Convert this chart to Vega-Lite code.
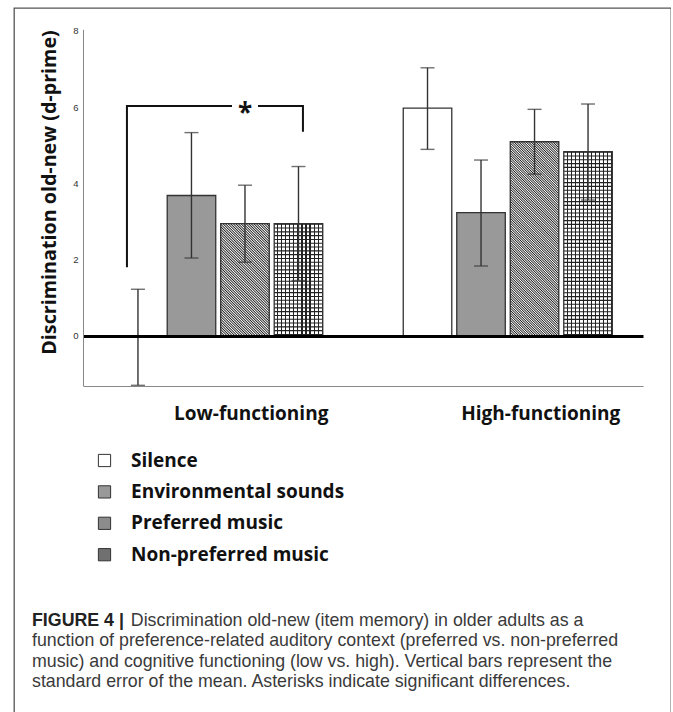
{
  "$schema": "https://vega.github.io/schema/vega-lite/v6.json",
  "autosize": {"type": "none"},
  "padding": {"left": 14, "top": 8, "right": 0, "bottom": 0},
  "width": 657,
  "height": 710,
  "background": "white",
  "config": {
    "view": {"stroke": "#555", "strokeWidth": 1.3},
    "font": "Liberation Sans"
  },
  "title": {
    "text": "FIGURE 4 |",
    "subtitle": [
      "\u200b\u00a0\u00a0\u00a0\u00a0\u00a0\u00a0\u00a0\u00a0\u00a0\u00a0\u00a0\u00a0\u00a0\u00a0\u00a0\u00a0\u00a0\u00a0\u00a0\u00a0Discrimination old-new (item memory) in older adults as a",
      "function of preference-related auditory context (preferred vs. non-preferred",
      "music) and cognitive functioning (low vs. high). Vertical bars represent the",
      "standard error of the mean. Asterisks indicate significant differences."
    ],
    "orient": "bottom",
    "anchor": "start",
    "frame": "group",
    "offset": -106,
    "dx": 18,
    "font": "Liberation Sans",
    "fontSize": 17.8,
    "fontWeight": "bold",
    "color": "#222",
    "subtitleFont": "Liberation Sans",
    "subtitleFontSize": 17.8,
    "subtitleFontWeight": "normal",
    "subtitleColor": "#3a3a3a",
    "subtitleLineHeight": 20.3,
    "subtitlePadding": -17.8
  },
  "datasets": {
    "bars": [
      {"grp": "Low-functioning", "cond": "Silence", "val": -0.04, "lo": -1.3, "hi": 1.22},
      {"grp": "Low-functioning", "cond": "Environmental sounds", "val": 3.68, "lo": 2.04, "hi": 5.33},
      {"grp": "Low-functioning", "cond": "Preferred music", "val": 2.94, "lo": 1.93, "hi": 3.95},
      {"grp": "Low-functioning", "cond": "Non-preferred music", "val": 2.94, "lo": 1.45, "hi": 4.44},
      {"grp": "High-functioning", "cond": "Silence", "val": 5.97, "lo": 4.89, "hi": 7.03},
      {"grp": "High-functioning", "cond": "Environmental sounds", "val": 3.23, "lo": 1.83, "hi": 4.61},
      {"grp": "High-functioning", "cond": "Preferred music", "val": 5.09, "lo": 4.24, "hi": 5.94},
      {"grp": "High-functioning", "cond": "Non-preferred music", "val": 4.83, "lo": 3.56, "hi": 6.08}
    ],
    "bracket": [
      {"grp": "Low-functioning", "cond": "Silence", "y": 1.8, "part": "L", "o": 1},
      {"grp": "Low-functioning", "cond": "Silence", "y": 6.03, "part": "L", "o": 2},
      {"grp": "Low-functioning", "cond": "Preferred music", "y": 6.03, "part": "L", "o": 3},
      {"grp": "Low-functioning", "cond": "Preferred music", "y": 6.03, "part": "R", "o": 1},
      {"grp": "Low-functioning", "cond": "Non-preferred music", "y": 6.03, "part": "R", "o": 2},
      {"grp": "Low-functioning", "cond": "Non-preferred music", "y": 5.35, "part": "R", "o": 3}
    ],
    "sig": [
      {"grp": "Low-functioning", "cond": "Preferred music", "y": 6.03, "label": "*"}
    ]
  },
  "resolve": {"scale": {"xOffset": "independent"}},
  "encoding": {
    "x": {
      "field": "grp", "type": "nominal",
      "sort": ["Low-functioning", "High-functioning"],
      "scale": {"domain": ["Low-functioning", "High-functioning"], "range": [69, 629], "paddingInner": 0.278, "paddingOuter": 0.106},
      "axis": {
        "title": null, "orient": "bottom", "offset": -332, "ticks": false,
        "domainColor": "#888", "domainWidth": 1,
        "labelFont": "Open Sans", "labelFontWeight": "bold", "labelFontSize": 19, "labelColor": "#111",
        "labelPadding": 18, "labelOffset": 33, "labelAngle": 0, "labelLimit": 400
      }
    },
    "xOffset": {
      "field": "cond", "type": "nominal",
      "scale": {"type": "band", "domain": ["Silence", "Environmental sounds", "Preferred music", "Non-preferred music"], "paddingInner": 0.093, "paddingOuter": 0}
    }
  },
  "layer": [
    {
      "data": {"name": "bars"},
      "mark": {"type": "bar"},
      "encoding": {
        "y": {
          "field": "val", "type": "quantitative", "stack": null,
          "scale": {"domain": [-1.31, 8.04], "range": [377.7, 21.3], "nice": false, "zero": false},
          "axis": {
            "title": "Discrimination old-new (d-prime)",
            "titleFont": "Open Sans", "titleFontWeight": "bold", "titleFontSize": 19.7, "titleColor": "#111",
            "titleX": -34, "titleY": 184, "titleBaseline": "middle", "titleAngle": -90,
            "values": [0, 2, 4, 6, 8], "format": "d", "offset": -69, "ticks": false,
            "labelFont": "Liberation Sans", "labelFontSize": 9.5, "labelColor": "#333", "labelPadding": 5,
            "domainColor": "#888", "domainWidth": 1,
            "grid": true, "gridColor": "#000", "gridWidth": 3,
            "gridOpacity": {"condition": {"test": "datum.value === 0", "value": 1}, "value": 0},
            "zindex": 1
          }
        },
        "fill": {
          "field": "cond", "type": "nominal",
          "scale": {
            "domain": ["Silence", "Environmental sounds", "Preferred music", "Non-preferred music"],
            "range": ["#ffffff", "#999999", "#8c8c8c", "#707070"]
          },
          "legend": {
            "orient": "none", "legendX": 81, "legendY": 443, "direction": "vertical",
            "title": null, "padding": 0, "symbolType": "square", "symbolSize": 150,
            "symbolStrokeColor": "#333", "symbolStrokeWidth": 1, "symbolOffset": 0,
            "labelFont": "Open Sans", "labelFontWeight": "bold", "labelFontSize": 19, "labelColor": "#111",
            "labelOffset": 17, "labelLimit": 400, "rowPadding": 11.4
          }
        }
      }
    },
    {
      "data": {"name": "bars"},
      "transform": [{"filter": "datum.cond === 'Preferred music' && datum.grp === 'Low-functioning'"}],
      "mark": {"type": "bar", "fill": {"gradient": "linear", "x1": 0, "y1": 1, "x2": 0.5207, "y2": -0.2068, "stops": [
        {"offset": 0, "color": "#fff"}, {"offset": 0.008, "color": "#222"}, {"offset": 0.016, "color": "#fff"}, {"offset": 0.024, "color": "#222"}, {"offset": 0.032, "color": "#fff"}, {"offset": 0.04, "color": "#222"}, {"offset": 0.048, "color": "#fff"}, {"offset": 0.056, "color": "#222"}, {"offset": 0.064, "color": "#fff"}, {"offset": 0.072, "color": "#222"},
        {"offset": 0.08, "color": "#fff"}, {"offset": 0.088, "color": "#222"}, {"offset": 0.096, "color": "#fff"}, {"offset": 0.104, "color": "#222"}, {"offset": 0.112, "color": "#fff"}, {"offset": 0.12, "color": "#222"}, {"offset": 0.128, "color": "#fff"}, {"offset": 0.136, "color": "#222"}, {"offset": 0.144, "color": "#fff"}, {"offset": 0.152, "color": "#222"},
        {"offset": 0.16, "color": "#fff"}, {"offset": 0.168, "color": "#222"}, {"offset": 0.176, "color": "#fff"}, {"offset": 0.184, "color": "#222"}, {"offset": 0.192, "color": "#fff"}, {"offset": 0.2, "color": "#222"}, {"offset": 0.208, "color": "#fff"}, {"offset": 0.216, "color": "#222"}, {"offset": 0.224, "color": "#fff"}, {"offset": 0.232, "color": "#222"},
        {"offset": 0.24, "color": "#fff"}, {"offset": 0.248, "color": "#222"}, {"offset": 0.256, "color": "#fff"}, {"offset": 0.264, "color": "#222"}, {"offset": 0.272, "color": "#fff"}, {"offset": 0.28, "color": "#222"}, {"offset": 0.288, "color": "#fff"}, {"offset": 0.296, "color": "#222"}, {"offset": 0.304, "color": "#fff"}, {"offset": 0.312, "color": "#222"},
        {"offset": 0.32, "color": "#fff"}, {"offset": 0.328, "color": "#222"}, {"offset": 0.336, "color": "#fff"}, {"offset": 0.344, "color": "#222"}, {"offset": 0.352, "color": "#fff"}, {"offset": 0.36, "color": "#222"}, {"offset": 0.368, "color": "#fff"}, {"offset": 0.376, "color": "#222"}, {"offset": 0.384, "color": "#fff"}, {"offset": 0.392, "color": "#222"},
        {"offset": 0.4, "color": "#fff"}, {"offset": 0.408, "color": "#222"}, {"offset": 0.416, "color": "#fff"}, {"offset": 0.424, "color": "#222"}, {"offset": 0.432, "color": "#fff"}, {"offset": 0.44, "color": "#222"}, {"offset": 0.448, "color": "#fff"}, {"offset": 0.456, "color": "#222"}, {"offset": 0.464, "color": "#fff"}, {"offset": 0.472, "color": "#222"},
        {"offset": 0.48, "color": "#fff"}, {"offset": 0.488, "color": "#222"}, {"offset": 0.496, "color": "#fff"}, {"offset": 0.504, "color": "#222"}, {"offset": 0.512, "color": "#fff"}, {"offset": 0.52, "color": "#222"}, {"offset": 0.528, "color": "#fff"}, {"offset": 0.536, "color": "#222"}, {"offset": 0.544, "color": "#fff"}, {"offset": 0.552, "color": "#222"},
        {"offset": 0.56, "color": "#fff"}, {"offset": 0.568, "color": "#222"}, {"offset": 0.576, "color": "#fff"}, {"offset": 0.584, "color": "#222"}, {"offset": 0.592, "color": "#fff"}, {"offset": 0.6, "color": "#222"}, {"offset": 0.608, "color": "#fff"}, {"offset": 0.616, "color": "#222"}, {"offset": 0.624, "color": "#fff"}, {"offset": 0.632, "color": "#222"},
        {"offset": 0.64, "color": "#fff"}, {"offset": 0.648, "color": "#222"}, {"offset": 0.656, "color": "#fff"}, {"offset": 0.664, "color": "#222"}, {"offset": 0.672, "color": "#fff"}, {"offset": 0.68, "color": "#222"}, {"offset": 0.688, "color": "#fff"}, {"offset": 0.696, "color": "#222"}, {"offset": 0.704, "color": "#fff"}, {"offset": 0.712, "color": "#222"},
        {"offset": 0.72, "color": "#fff"}, {"offset": 0.728, "color": "#222"}, {"offset": 0.736, "color": "#fff"}, {"offset": 0.744, "color": "#222"}, {"offset": 0.752, "color": "#fff"}, {"offset": 0.76, "color": "#222"}, {"offset": 0.768, "color": "#fff"}, {"offset": 0.776, "color": "#222"}, {"offset": 0.784, "color": "#fff"}, {"offset": 0.792, "color": "#222"},
        {"offset": 0.8, "color": "#fff"}, {"offset": 0.808, "color": "#222"}, {"offset": 0.816, "color": "#fff"}, {"offset": 0.824, "color": "#222"}, {"offset": 0.832, "color": "#fff"}, {"offset": 0.84, "color": "#222"}, {"offset": 0.848, "color": "#fff"}, {"offset": 0.856, "color": "#222"}, {"offset": 0.864, "color": "#fff"}, {"offset": 0.872, "color": "#222"},
        {"offset": 0.88, "color": "#fff"}, {"offset": 0.888, "color": "#222"}, {"offset": 0.896, "color": "#fff"}, {"offset": 0.904, "color": "#222"}, {"offset": 0.912, "color": "#fff"}, {"offset": 0.92, "color": "#222"}, {"offset": 0.928, "color": "#fff"}, {"offset": 0.936, "color": "#222"}, {"offset": 0.944, "color": "#fff"}, {"offset": 0.952, "color": "#222"},
        {"offset": 0.96, "color": "#fff"}, {"offset": 0.968, "color": "#222"}, {"offset": 0.976, "color": "#fff"}, {"offset": 0.984, "color": "#222"}, {"offset": 0.992, "color": "#fff"}, {"offset": 1, "color": "#222"}
      ]}},
      "encoding": {"y": {"field": "val", "type": "quantitative", "stack": null}}
    },
    {
      "data": {"name": "bars"},
      "transform": [{"filter": "datum.cond === 'Preferred music' && datum.grp === 'High-functioning'"}],
      "mark": {"type": "bar", "fill": {"gradient": "linear", "x1": 0, "y1": 1, "x2": 0.293, "y2": -0.1762, "stops": [
        {"offset": 0, "color": "#fff"}, {"offset": 0.005, "color": "#222"}, {"offset": 0.01, "color": "#fff"}, {"offset": 0.015, "color": "#222"}, {"offset": 0.02, "color": "#fff"}, {"offset": 0.025, "color": "#222"}, {"offset": 0.03, "color": "#fff"}, {"offset": 0.035, "color": "#222"}, {"offset": 0.04, "color": "#fff"}, {"offset": 0.045, "color": "#222"},
        {"offset": 0.05, "color": "#fff"}, {"offset": 0.055, "color": "#222"}, {"offset": 0.06, "color": "#fff"}, {"offset": 0.065, "color": "#222"}, {"offset": 0.07, "color": "#fff"}, {"offset": 0.075, "color": "#222"}, {"offset": 0.08, "color": "#fff"}, {"offset": 0.085, "color": "#222"}, {"offset": 0.09, "color": "#fff"}, {"offset": 0.095, "color": "#222"},
        {"offset": 0.1, "color": "#fff"}, {"offset": 0.105, "color": "#222"}, {"offset": 0.11, "color": "#fff"}, {"offset": 0.115, "color": "#222"}, {"offset": 0.12, "color": "#fff"}, {"offset": 0.125, "color": "#222"}, {"offset": 0.13, "color": "#fff"}, {"offset": 0.135, "color": "#222"}, {"offset": 0.14, "color": "#fff"}, {"offset": 0.145, "color": "#222"},
        {"offset": 0.15, "color": "#fff"}, {"offset": 0.155, "color": "#222"}, {"offset": 0.16, "color": "#fff"}, {"offset": 0.165, "color": "#222"}, {"offset": 0.17, "color": "#fff"}, {"offset": 0.175, "color": "#222"}, {"offset": 0.18, "color": "#fff"}, {"offset": 0.185, "color": "#222"}, {"offset": 0.19, "color": "#fff"}, {"offset": 0.195, "color": "#222"},
        {"offset": 0.2, "color": "#fff"}, {"offset": 0.205, "color": "#222"}, {"offset": 0.21, "color": "#fff"}, {"offset": 0.215, "color": "#222"}, {"offset": 0.22, "color": "#fff"}, {"offset": 0.225, "color": "#222"}, {"offset": 0.23, "color": "#fff"}, {"offset": 0.235, "color": "#222"}, {"offset": 0.24, "color": "#fff"}, {"offset": 0.245, "color": "#222"},
        {"offset": 0.25, "color": "#fff"}, {"offset": 0.255, "color": "#222"}, {"offset": 0.26, "color": "#fff"}, {"offset": 0.265, "color": "#222"}, {"offset": 0.27, "color": "#fff"}, {"offset": 0.275, "color": "#222"}, {"offset": 0.28, "color": "#fff"}, {"offset": 0.285, "color": "#222"}, {"offset": 0.29, "color": "#fff"}, {"offset": 0.295, "color": "#222"},
        {"offset": 0.3, "color": "#fff"}, {"offset": 0.305, "color": "#222"}, {"offset": 0.31, "color": "#fff"}, {"offset": 0.315, "color": "#222"}, {"offset": 0.32, "color": "#fff"}, {"offset": 0.325, "color": "#222"}, {"offset": 0.33, "color": "#fff"}, {"offset": 0.335, "color": "#222"}, {"offset": 0.34, "color": "#fff"}, {"offset": 0.345, "color": "#222"},
        {"offset": 0.35, "color": "#fff"}, {"offset": 0.355, "color": "#222"}, {"offset": 0.36, "color": "#fff"}, {"offset": 0.365, "color": "#222"}, {"offset": 0.37, "color": "#fff"}, {"offset": 0.375, "color": "#222"}, {"offset": 0.38, "color": "#fff"}, {"offset": 0.385, "color": "#222"}, {"offset": 0.39, "color": "#fff"}, {"offset": 0.395, "color": "#222"},
        {"offset": 0.4, "color": "#fff"}, {"offset": 0.405, "color": "#222"}, {"offset": 0.41, "color": "#fff"}, {"offset": 0.415, "color": "#222"}, {"offset": 0.42, "color": "#fff"}, {"offset": 0.425, "color": "#222"}, {"offset": 0.43, "color": "#fff"}, {"offset": 0.435, "color": "#222"}, {"offset": 0.44, "color": "#fff"}, {"offset": 0.445, "color": "#222"},
        {"offset": 0.45, "color": "#fff"}, {"offset": 0.455, "color": "#222"}, {"offset": 0.46, "color": "#fff"}, {"offset": 0.465, "color": "#222"}, {"offset": 0.47, "color": "#fff"}, {"offset": 0.475, "color": "#222"}, {"offset": 0.48, "color": "#fff"}, {"offset": 0.485, "color": "#222"}, {"offset": 0.49, "color": "#fff"}, {"offset": 0.495, "color": "#222"},
        {"offset": 0.5, "color": "#fff"}, {"offset": 0.505, "color": "#222"}, {"offset": 0.51, "color": "#fff"}, {"offset": 0.515, "color": "#222"}, {"offset": 0.52, "color": "#fff"}, {"offset": 0.525, "color": "#222"}, {"offset": 0.53, "color": "#fff"}, {"offset": 0.535, "color": "#222"}, {"offset": 0.54, "color": "#fff"}, {"offset": 0.545, "color": "#222"},
        {"offset": 0.55, "color": "#fff"}, {"offset": 0.555, "color": "#222"}, {"offset": 0.56, "color": "#fff"}, {"offset": 0.565, "color": "#222"}, {"offset": 0.57, "color": "#fff"}, {"offset": 0.575, "color": "#222"}, {"offset": 0.58, "color": "#fff"}, {"offset": 0.585, "color": "#222"}, {"offset": 0.59, "color": "#fff"}, {"offset": 0.595, "color": "#222"},
        {"offset": 0.6, "color": "#fff"}, {"offset": 0.605, "color": "#222"}, {"offset": 0.61, "color": "#fff"}, {"offset": 0.615, "color": "#222"}, {"offset": 0.62, "color": "#fff"}, {"offset": 0.625, "color": "#222"}, {"offset": 0.63, "color": "#fff"}, {"offset": 0.635, "color": "#222"}, {"offset": 0.64, "color": "#fff"}, {"offset": 0.645, "color": "#222"},
        {"offset": 0.65, "color": "#fff"}, {"offset": 0.655, "color": "#222"}, {"offset": 0.66, "color": "#fff"}, {"offset": 0.665, "color": "#222"}, {"offset": 0.67, "color": "#fff"}, {"offset": 0.675, "color": "#222"}, {"offset": 0.68, "color": "#fff"}, {"offset": 0.685, "color": "#222"}, {"offset": 0.69, "color": "#fff"}, {"offset": 0.695, "color": "#222"},
        {"offset": 0.7, "color": "#fff"}, {"offset": 0.705, "color": "#222"}, {"offset": 0.71, "color": "#fff"}, {"offset": 0.715, "color": "#222"}, {"offset": 0.72, "color": "#fff"}, {"offset": 0.725, "color": "#222"}, {"offset": 0.73, "color": "#fff"}, {"offset": 0.735, "color": "#222"}, {"offset": 0.74, "color": "#fff"}, {"offset": 0.745, "color": "#222"},
        {"offset": 0.75, "color": "#fff"}, {"offset": 0.755, "color": "#222"}, {"offset": 0.76, "color": "#fff"}, {"offset": 0.765, "color": "#222"}, {"offset": 0.77, "color": "#fff"}, {"offset": 0.775, "color": "#222"}, {"offset": 0.78, "color": "#fff"}, {"offset": 0.785, "color": "#222"}, {"offset": 0.79, "color": "#fff"}, {"offset": 0.795, "color": "#222"},
        {"offset": 0.8, "color": "#fff"}, {"offset": 0.805, "color": "#222"}, {"offset": 0.81, "color": "#fff"}, {"offset": 0.815, "color": "#222"}, {"offset": 0.82, "color": "#fff"}, {"offset": 0.825, "color": "#222"}, {"offset": 0.83, "color": "#fff"}, {"offset": 0.835, "color": "#222"}, {"offset": 0.84, "color": "#fff"}, {"offset": 0.845, "color": "#222"},
        {"offset": 0.85, "color": "#fff"}, {"offset": 0.855, "color": "#222"}, {"offset": 0.86, "color": "#fff"}, {"offset": 0.865, "color": "#222"}, {"offset": 0.87, "color": "#fff"}, {"offset": 0.875, "color": "#222"}, {"offset": 0.88, "color": "#fff"}, {"offset": 0.885, "color": "#222"}, {"offset": 0.89, "color": "#fff"}, {"offset": 0.895, "color": "#222"},
        {"offset": 0.9, "color": "#fff"}, {"offset": 0.905, "color": "#222"}, {"offset": 0.91, "color": "#fff"}, {"offset": 0.915, "color": "#222"}, {"offset": 0.92, "color": "#fff"}, {"offset": 0.925, "color": "#222"}, {"offset": 0.93, "color": "#fff"}, {"offset": 0.935, "color": "#222"}, {"offset": 0.94, "color": "#fff"}, {"offset": 0.945, "color": "#222"},
        {"offset": 0.95, "color": "#fff"}, {"offset": 0.955, "color": "#222"}, {"offset": 0.96, "color": "#fff"}, {"offset": 0.965, "color": "#222"}, {"offset": 0.97, "color": "#fff"}, {"offset": 0.975, "color": "#222"}, {"offset": 0.98, "color": "#fff"}, {"offset": 0.985, "color": "#222"}, {"offset": 0.99, "color": "#fff"}, {"offset": 0.995, "color": "#222"},
        {"offset": 1, "color": "#fff"}
      ]}},
      "encoding": {"y": {"field": "val", "type": "quantitative", "stack": null}}
    },
    {
      "data": {"name": "bars"},
      "transform": [{"filter": "datum.cond === 'Non-preferred music'"}],
      "mark": {"type": "bar", "fill": {"gradient": "linear", "x1": 0, "y1": 0, "x2": 1, "y2": 0, "stops": [
        {"offset": 0, "color": "#fff"}, {"offset": 0.06, "color": "#fff"}, {"offset": 0.06, "color": "#222"}, {"offset": 0.0833, "color": "#222"},
        {"offset": 0.0833, "color": "#fff"}, {"offset": 0.1433, "color": "#fff"}, {"offset": 0.1433, "color": "#222"}, {"offset": 0.1667, "color": "#222"},
        {"offset": 0.1667, "color": "#fff"}, {"offset": 0.2267, "color": "#fff"}, {"offset": 0.2267, "color": "#222"}, {"offset": 0.25, "color": "#222"},
        {"offset": 0.25, "color": "#fff"}, {"offset": 0.31, "color": "#fff"}, {"offset": 0.31, "color": "#222"}, {"offset": 0.3333, "color": "#222"},
        {"offset": 0.3333, "color": "#fff"}, {"offset": 0.3933, "color": "#fff"}, {"offset": 0.3933, "color": "#222"}, {"offset": 0.4167, "color": "#222"},
        {"offset": 0.4167, "color": "#fff"}, {"offset": 0.4767, "color": "#fff"}, {"offset": 0.4767, "color": "#222"}, {"offset": 0.5, "color": "#222"},
        {"offset": 0.5, "color": "#fff"}, {"offset": 0.56, "color": "#fff"}, {"offset": 0.56, "color": "#222"}, {"offset": 0.5833, "color": "#222"},
        {"offset": 0.5833, "color": "#fff"}, {"offset": 0.6433, "color": "#fff"}, {"offset": 0.6433, "color": "#222"}, {"offset": 0.6667, "color": "#222"},
        {"offset": 0.6667, "color": "#fff"}, {"offset": 0.7267, "color": "#fff"}, {"offset": 0.7267, "color": "#222"}, {"offset": 0.75, "color": "#222"},
        {"offset": 0.75, "color": "#fff"}, {"offset": 0.81, "color": "#fff"}, {"offset": 0.81, "color": "#222"}, {"offset": 0.8333, "color": "#222"},
        {"offset": 0.8333, "color": "#fff"}, {"offset": 0.8933, "color": "#fff"}, {"offset": 0.8933, "color": "#222"}, {"offset": 0.9167, "color": "#222"},
        {"offset": 0.9167, "color": "#fff"}, {"offset": 0.9767, "color": "#fff"}, {"offset": 0.9767, "color": "#222"}, {"offset": 1, "color": "#222"}
      ]}},
      "encoding": {"y": {"field": "val", "type": "quantitative", "stack": null}}
    },
    {
      "data": {"name": "bars"},
      "transform": [{"filter": "datum.cond === 'Non-preferred music'"}],
      "mark": {"type": "rule", "color": "#222", "strokeWidth": 48.5, "strokeDash": [1.1, 2.7]},
      "encoding": {"y": {"field": "val", "type": "quantitative"}, "y2": {"datum": 0}}
    },
    {
      "data": {"name": "bars"},
      "mark": {"type": "bar", "filled": false, "color": "#333", "strokeWidth": 1.3},
      "encoding": {"y": {"field": "val", "type": "quantitative", "stack": null}}
    },
    {
      "data": {"name": "bars"},
      "mark": {"type": "rule", "color": "#333", "strokeWidth": 1.4},
      "encoding": {"y": {"field": "lo", "type": "quantitative"}, "y2": {"field": "hi"}}
    },
    {
      "data": {"name": "bars"},
      "mark": {"type": "tick", "orient": "horizontal", "color": "#333", "size": 14, "thickness": 1.4},
      "encoding": {"y": {"field": "lo", "type": "quantitative"}}
    },
    {
      "data": {"name": "bars"},
      "mark": {"type": "tick", "orient": "horizontal", "color": "#333", "size": 14, "thickness": 1.4},
      "encoding": {"y": {"field": "hi", "type": "quantitative"}}
    },
    {
      "data": {"name": "bracket"},
      "transform": [{"filter": "datum.part === 'L'"}],
      "mark": {"type": "line", "color": "#111", "strokeWidth": 2},
      "encoding": {
        "xOffset": {"field": "cond", "type": "nominal", "scale": {"type": "band", "domain": ["Silence", "Environmental sounds", "Preferred music", "Non-preferred music"], "paddingInner": 0.6, "paddingOuter": 0.254, "align": 0.094}},
        "y": {"field": "y", "type": "quantitative"}, "order": {"field": "o"}
      }
    },
    {
      "data": {"name": "bracket"},
      "transform": [{"filter": "datum.part === 'R'"}],
      "mark": {"type": "line", "color": "#111", "strokeWidth": 2},
      "encoding": {
        "xOffset": {"field": "cond", "type": "nominal", "scale": {"type": "band", "domain": ["Silence", "Environmental sounds", "Preferred music", "Non-preferred music"], "paddingInner": 0.6, "paddingOuter": 0.254, "align": 0.665}},
        "y": {"field": "y", "type": "quantitative"}, "order": {"field": "o"}
      }
    },
    {
      "data": {"name": "sig"},
      "mark": {"type": "point", "shape": "square", "filled": true, "color": "#fff", "opacity": 1, "size": 676},
      "encoding": {"y": {"field": "y", "type": "quantitative"}}
    },
    {
      "data": {"name": "sig"},
      "mark": {"type": "text", "font": "Open Sans", "fontWeight": "bold", "fontSize": 26, "baseline": "alphabetic", "dy": 16, "color": "#111"},
      "encoding": {"y": {"field": "y", "type": "quantitative"}, "text": {"field": "label"}}
    }
  ]
}
